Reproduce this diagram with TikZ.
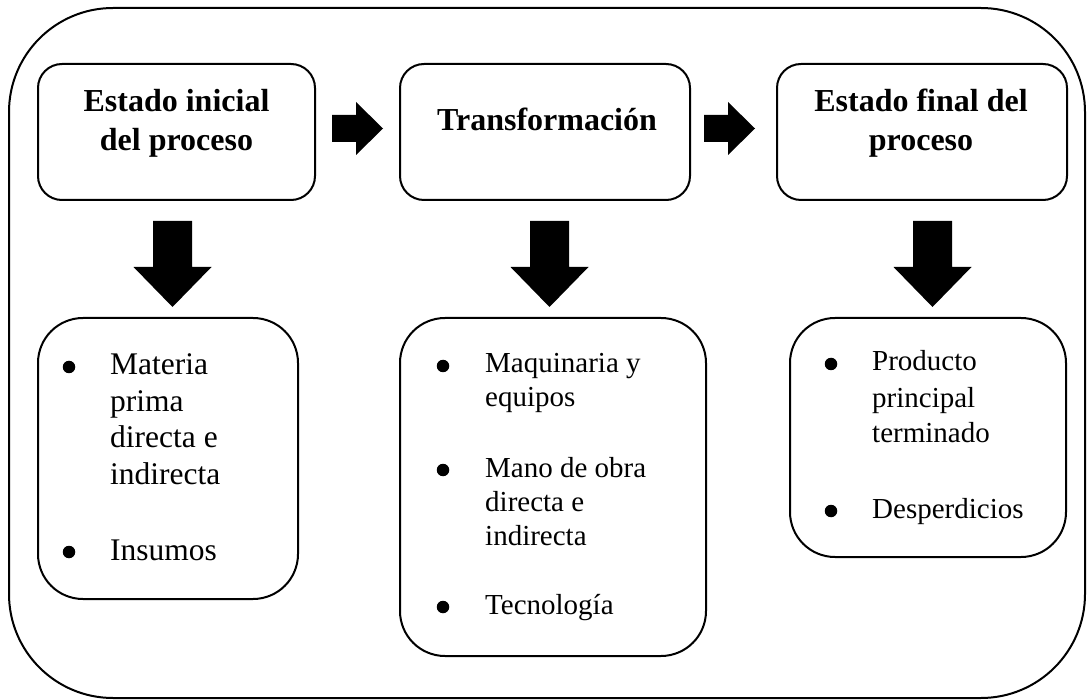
\documentclass[tikz,border=0pt]{standalone}
\usepackage{fontspec}
\setmainfont{Liberation Serif}
\tikzset{
  frame/.style={draw=black, line width=2pt},
  topbox/.style={frame, rounded corners=24pt},
  listbox/.style={frame, rounded corners=45pt},
  outerbox/.style={frame, rounded corners=104pt},
  title/.style={anchor=base, inner sep=0pt, font=\bfseries\fontsize{32}{39}\selectfont},
  itemA/.style={anchor=base west, inner sep=0pt, font=\fontsize{31.5}{36.5}\selectfont},
  itemB/.style={anchor=base west, inner sep=0pt, font=\fontsize{29}{34}\selectfont},
  itemC/.style={anchor=base west, inner sep=0pt, font=\fontsize{29}{36}\selectfont},
  bul/.style={circle, fill=black, inner sep=0pt, minimum size=12.5pt},
  bigarrow/.style={fill=black, draw=none},
}
\begin{document}
\begin{tikzpicture}[x=1pt, y=-1pt]
\useasboundingbox (0,0) rectangle (1087,700);
% outer frame
\draw[outerbox] (9,8) rectangle (1085,698);
% top boxes
\draw[topbox] (38,64) rectangle (315,200);
\draw[topbox] (400,64) rectangle (690,200);
\draw[topbox] (777,64) rectangle (1067,200);
% bottom boxes
\draw[listbox] (38,318) rectangle (298,599);
\draw[listbox] (400,318) rectangle (706,656);
\draw[listbox] (790,318) rectangle (1066,557);
% titles
\node[title] (t1) at (176.5,112) {\parbox[t]{270pt}{\centering Estado inicial\\del proceso}};
\node[title] (t2) at (547,131) {\parbox[t]{280pt}{\centering Transformación}};
\node[title] (t3) at (921,112) {\parbox[t]{280pt}{\centering Estado final del\\proceso}};
% horizontal arrows
\fill[bigarrow] (332,115) -- (356,115) -- (356,102) -- (383,128.5) -- (356,155) -- (356,142) -- (332,142) -- cycle;
\fill[bigarrow] (704,115) -- (728,115) -- (728,102) -- (755,128.5) -- (728,155) -- (728,142) -- (704,142) -- cycle;
% vertical arrows
\foreach \cx in {172.5,549.5,932.5}{
  \fill[bigarrow] (\cx-19.5,221) -- (\cx+19.5,221) -- (\cx+19.5,267) -- (\cx+39,267) -- (\cx,307) -- (\cx-39,267) -- (\cx-19.5,267) -- cycle;
}
% list A
\node[bul] (ba1) at (69,367) {};
\node[itemA] (a1) at (110,375) {\parbox[t]{180pt}{\raggedright Materia\\prima\\directa e\\indirecta}};
\node[bul] (ba2) at (69,552) {};
\node[itemA] (a2) at (110,560) {Insumos};
% list B
\node[bul] (bb1) at (443,366) {};
\node[itemB] (bt1) at (485,373) {\parbox[t]{210pt}{\raggedright Maquinaria y\\equipos}};
\node[bul] (bb2) at (443,470) {};
\node[itemB] (bt2) at (485,477) {\parbox[t]{210pt}{\raggedright Mano de obra\\directa e\\indirecta}};
\node[bul] (bb3) at (443,607) {};
\node[itemB] (bt3) at (485,614) {Tecnología};
% list C
\node[bul] (bc1) at (831,364) {};
\node[itemC] (c1) at (872,371) {\parbox[t]{190pt}{\raggedright Producto\\principal\\terminado}};
\node[bul] (bc2) at (831,511) {};
\node[itemC] (c2) at (872,518) {Desperdicios};
\end{tikzpicture}
\end{document}
